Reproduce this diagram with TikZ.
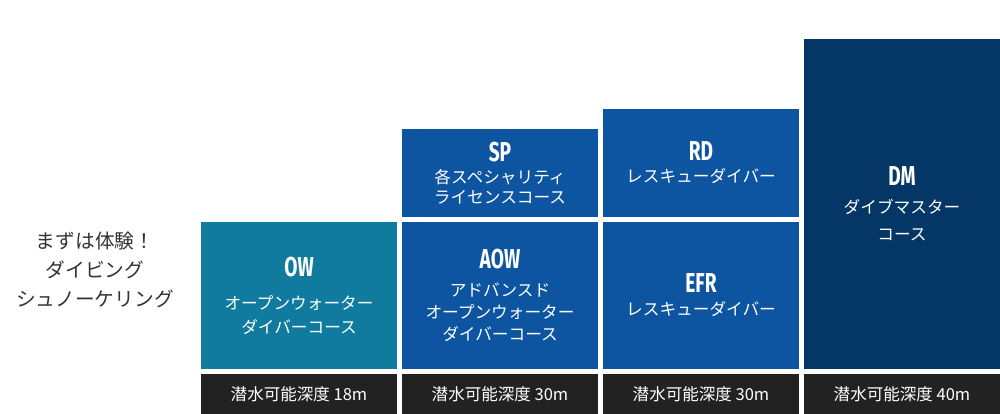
\documentclass[tikz,border=0pt]{standalone}
\usepackage{fontspec}
\setmainfont{Noto Sans CJK JP}
\newfontfamily\titlefont[FakeStretch=0.7]{Fira Sans}
\usetikzlibrary{positioning}
\definecolor{owteal}{RGB}{16,123,158}
\definecolor{courseblue}{RGB}{13,85,160}
\definecolor{dmnavy}{RGB}{4,54,102}
\definecolor{depthdark}{RGB}{34,34,34}
\definecolor{leadgray}{RGB}{51,51,51}
\newcommand{\coursetitle}[1]{{\titlefont\bfseries\fontsize{20.5}{20}\selectfont #1}}

\begin{document}
\begin{tikzpicture}[
    x=0.75pt, y=-0.75pt,
    node distance=3.75pt,
    box/.style={rectangle, inner sep=0pt, outer sep=0pt, minimum width=147pt,
        text=white, align=center},
    depth/.style={box, fill=depthdark, minimum height=30pt,
        font=\fontsize{12.4}{14}\selectfont},
    lead/.style={text=leadgray, align=center, font=\fontsize{14.8}{21.75}\selectfont}
]
    \useasboundingbox (0,0) rectangle (1000,414);

    \node[depth] (d1) at (299,394) {潜水可能深度 18m};
    \node[depth, right=of d1] (d2) {潜水可能深度 30m};
    \node[depth, right=of d2] (d3) {潜水可能深度 30m};
    \node[depth, right=of d3] (d4) {潜水可能深度 40m};

    \node[box, fill=owteal, minimum height=110.25pt, above=of d1,
        font=\fontsize{12.5}{18}\selectfont] (ow)
        {\coursetitle{OW}\\[6.75pt]オープンウォーター\\ダイバーコース};
    \node[box, fill=courseblue, minimum height=110.25pt, above=of d2,
        font=\fontsize{12.5}{16.5}\selectfont] (aow)
        {\coursetitle{AOW}\\[4.5pt]アドバンスド\\オープンウォーター\\ダイバーコース};
    \node[box, fill=courseblue, minimum height=66pt, above=of aow,
        font=\fontsize{12.5}{15}\selectfont] (sp)
        {\coursetitle{SP}\\[1.5pt]各スペシャリティ\\ライセンスコース};
    \node[box, fill=courseblue, minimum height=110.25pt, above=of d3,
        font=\fontsize{12.5}{17.25}\selectfont] (efr)
        {\coursetitle{EFR}\\レスキューダイバー};
    \node[box, fill=courseblue, minimum height=81pt, above=of efr,
        font=\fontsize{12.5}{16.5}\selectfont] (rd)
        {\coursetitle{RD}\\レスキューダイバー};
    \node[box, fill=dmnavy, minimum height=247.5pt, above=of d4,
        font=\fontsize{12.5}{20.25}\selectfont] (dm)
        {\coursetitle{DM}\\[0.75pt]ダイブマスター\\コース};

    \node[lead] (intro) at (95,270) {まずは体験！\\ダイビング\\シュノーケリング};
\end{tikzpicture}
\end{document}
